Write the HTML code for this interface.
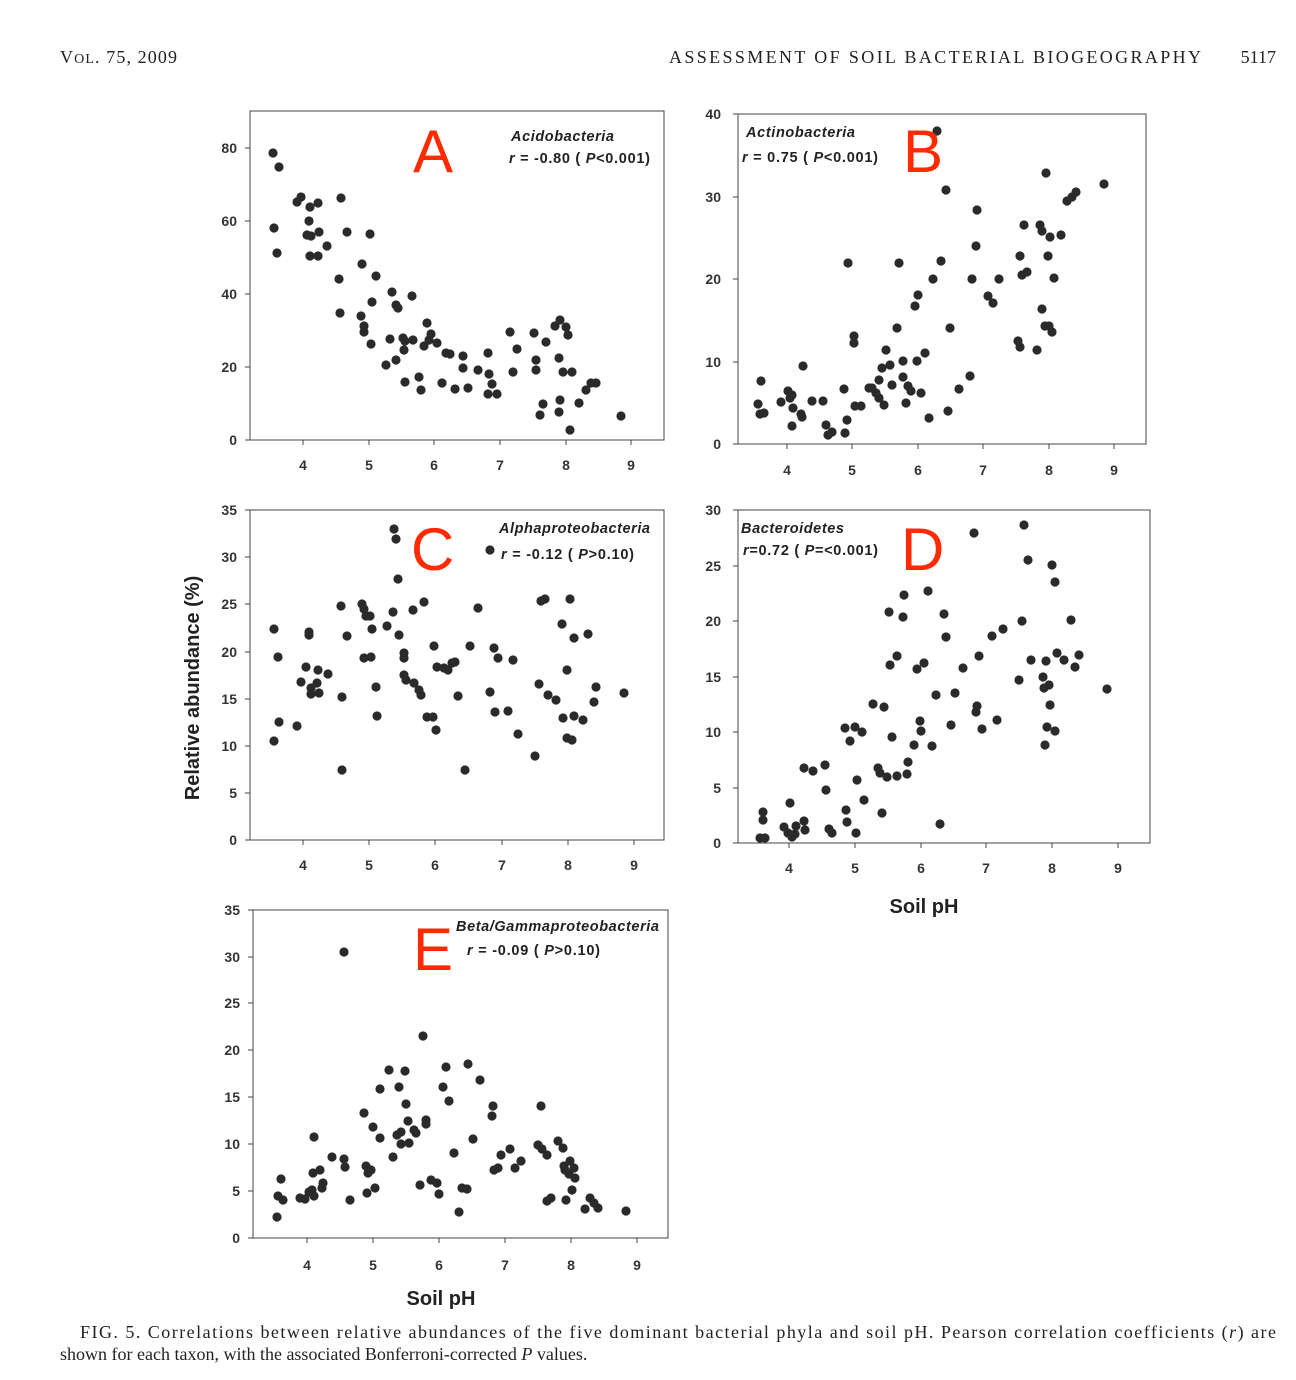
<!DOCTYPE html>
<html><head><meta charset="utf-8">
<style>
body{margin:0;background:#fff;}
svg{display:block;}
.t{font-family:"Liberation Sans",Arial,sans-serif;font-weight:bold;font-size:14px;fill:#333;}
.s{font-family:"Liberation Serif",serif;font-size:18px;fill:#222;}
.big{font-family:"Liberation Sans",Arial,sans-serif;font-size:60px;fill:#ff2a00;}
.ann{font-family:"Liberation Sans",Arial,sans-serif;font-weight:bold;font-size:14.5px;fill:#222;}
.ax{font-family:"Liberation Sans",Arial,sans-serif;font-weight:bold;font-size:20px;fill:#222;}
</style></head>
<body>
<svg id="s" width="1296" height="1380" xmlns="http://www.w3.org/2000/svg">
<text class="s" x="60" y="63" textLength="117" lengthAdjust="spacing">V<tspan font-size="14">OL</tspan>. 75, 2009</text>
<text class="s" x="669" y="63" textLength="532" lengthAdjust="spacing">ASSESSMENT OF SOIL BACTERIAL BIOGEOGRAPHY</text>
<text class="s" x="1276" y="63" text-anchor="end">5117</text>

<g fill="none" stroke="#444" stroke-width="1">
<rect x="250" y="111" width="414" height="329"/>
<rect x="738" y="114" width="408" height="330"/>
<rect x="250" y="510" width="414" height="330"/>
<rect x="738" y="510" width="412" height="333"/>
<rect x="253" y="910" width="415" height="328"/>
</g>
<g id="ticks" stroke="#444" stroke-width="1"></g>
<g id="dots" fill="#2a2a2a"></g>

<g class="t" text-anchor="middle">
<text x="303" y="470">4</text><text x="369" y="470">5</text><text x="434" y="470">6</text><text x="500" y="470">7</text><text x="566" y="470">8</text><text x="631" y="470">9</text>
<text x="787" y="475">4</text><text x="852" y="475">5</text><text x="918" y="475">6</text><text x="983" y="475">7</text><text x="1049" y="475">8</text><text x="1114" y="475">9</text>
<text x="303" y="870">4</text><text x="369" y="870">5</text><text x="435" y="870">6</text><text x="502" y="870">7</text><text x="568" y="870">8</text><text x="634" y="870">9</text>
<text x="789" y="873">4</text><text x="855" y="873">5</text><text x="921" y="873">6</text><text x="986" y="873">7</text><text x="1052" y="873">8</text><text x="1118" y="873">9</text>
<text x="307" y="1270">4</text><text x="373" y="1270">5</text><text x="439" y="1270">6</text><text x="505" y="1270">7</text><text x="571" y="1270">8</text><text x="637" y="1270">9</text>
</g>
<g class="t" text-anchor="end">
<text x="237" y="445">0</text><text x="237" y="372">20</text><text x="237" y="299">40</text><text x="237" y="226">60</text><text x="237" y="153">80</text>
<text x="721" y="449">0</text><text x="721" y="367">10</text><text x="721" y="284">20</text><text x="721" y="202">30</text><text x="721" y="119">40</text>
<text x="237" y="845">0</text><text x="237" y="798">5</text><text x="237" y="751">10</text><text x="237" y="704">15</text><text x="237" y="657">20</text><text x="237" y="609">25</text><text x="237" y="562">30</text><text x="237" y="515">35</text>
<text x="721" y="848">0</text><text x="721" y="793">5</text><text x="721" y="737">10</text><text x="721" y="682">15</text><text x="721" y="626">20</text><text x="721" y="571">25</text><text x="721" y="515">30</text>
<text x="240" y="1243">0</text><text x="240" y="1196">5</text><text x="240" y="1149">10</text><text x="240" y="1102">15</text><text x="240" y="1055">20</text><text x="240" y="1008">25</text><text x="240" y="962">30</text><text x="240" y="915">35</text>
</g>

<text class="big" x="413" y="172">A</text>
<text class="big" x="903" y="172">B</text>
<text class="big" x="411" y="570">C</text>
<text class="big" x="901" y="570">D</text>
<text class="big" x="413" y="970">E</text>

<g class="ann">
<text x="511" y="141" font-style="italic" textLength="103" lengthAdjust="spacing">Acidobacteria</text>
<text x="509" y="163" textLength="141" lengthAdjust="spacing"><tspan font-style="italic">r</tspan> = -0.80 (  <tspan font-style="italic">P</tspan>&lt;0.001)</text>
<text x="746" y="137" font-style="italic" textLength="109" lengthAdjust="spacing">Actinobacteria</text>
<text x="742" y="162" textLength="136" lengthAdjust="spacing"><tspan font-style="italic">r</tspan> = 0.75 (  <tspan font-style="italic">P</tspan>&lt;0.001)</text>
<text x="499" y="533" font-style="italic" textLength="151" lengthAdjust="spacing">Alphaproteobacteria</text>
<text x="501" y="559" textLength="133" lengthAdjust="spacing"><tspan font-style="italic">r</tspan> = -0.12 (  <tspan font-style="italic">P</tspan>&gt;0.10)</text>
<text x="741" y="533" font-style="italic" textLength="103" lengthAdjust="spacing">Bacteroidetes</text>
<text x="743" y="555" textLength="135" lengthAdjust="spacing"><tspan font-style="italic">r</tspan>=0.72 (  <tspan font-style="italic">P</tspan>=&lt;0.001)</text>
<text x="456" y="931" font-style="italic" textLength="203" lengthAdjust="spacing">Beta/Gammaproteobacteria</text>
<text x="467" y="955" textLength="133" lengthAdjust="spacing"><tspan font-style="italic">r</tspan> = -0.09 (  <tspan font-style="italic">P</tspan>&gt;0.10)</text>
</g>

<text class="ax" x="924" y="913" text-anchor="middle">Soil pH</text>
<text class="ax" x="441" y="1305" text-anchor="middle">Soil pH</text>
<text class="ax" transform="translate(199,688) rotate(-90)" text-anchor="middle">Relative abundance (%)</text>

<text class="s" x="80" y="1338" textLength="1196" lengthAdjust="spacing">FIG. 5. Correlations between relative abundances of the five dominant bacterial phyla and soil pH. Pearson correlation coefficients (<tspan font-style="italic">r</tspan>) are</text>
<text class="s" x="60" y="1360">shown for each taxon, with the associated Bonferroni-corrected <tspan font-style="italic">P</tspan> values.</text>
</svg>
<script>
var NS="http://www.w3.org/2000/svg";
var P=[
[273,153,279,167,274,228,277,253,297,202,301,197,310,207,318,203,309,221,311,236,307,235,319,232,310,256,318,256,327,246,341,198,347,232,339,279,340,313,362,264,370,234,376,276,372,302,361,316,364,326,364,332,371,344,386,365,392,292,396,305,398,308,390,339,403,338,396,360,404,350,405,382,412,296,413,340,405,341,419,377,421,390,424,346,427,323,431,334,429,340,437,343,442,383,446,353,450,354,455,389,463,356,463,368,468,388,478,370,488,353,489,374,492,384,488,394,497,394,510,332,513,372,517,349,534,333,536,370,536,360,540,415,543,404,546,342,555,326,560,320,559,358,560,400,559,412,566,327,563,372,568,335,572,372,570,430,579,403,586,390,591,383,596,383,621,416],
[758,404,760,414,761,381,764,413,781,402,788,391,790,398,793,408,792,426,792,395,801,414,803,366,802,417,812,401,823,401,826,425,828,435,832,432,844,389,845,433,848,263,847,420,855,406,854,343,854,336,861,406,869,388,872,388,876,393,879,380,879,398,882,368,884,405,886,350,890,365,892,385,897,328,899,263,903,377,903,361,906,403,908,386,911,391,915,306,918,295,917,361,921,393,925,353,929,418,933,279,937,131,941,261,946,190,948,411,950,328,959,389,970,376,972,279,977,210,976,246,988,296,993,303,999,279,1018,341,1020,347,1020,256,1022,275,1024,225,1027,272,1040,225,1042,231,1042,309,1045,326,1046,173,1048,256,1049,326,1050,237,1052,332,1054,278,1061,235,1067,201,1072,197,1076,192,1104,184,1037,350],
[274,629,278,657,279,722,274,741,297,726,301,682,309,632,309,635,306,667,311,694,311,688,318,670,317,683,319,693,328,674,341,606,342,697,342,770,347,636,362,604,364,609,366,616,364,658,370,616,372,629,376,687,371,657,377,716,387,626,393,612,394,529,396,539,398,579,399,635,404,653,404,675,406,680,404,658,413,610,414,683,419,690,421,695,424,602,427,717,433,717,434,646,436,730,437,667,444,668,448,670,452,663,455,662,458,696,465,770,470,646,478,608,490,550,490,692,495,712,494,648,498,658,508,711,513,660,518,734,535,756,539,684,541,601,545,599,548,695,556,700,562,624,563,718,567,670,567,738,570,599,572,740,574,638,574,716,583,720,588,634,594,702,596,687,624,693],
[760,838,763,820,763,812,765,838,784,827,788,833,790,803,792,837,795,834,796,826,805,830,804,768,804,821,813,771,825,765,826,790,829,829,832,833,845,728,846,810,847,822,850,741,855,727,857,780,856,833,862,732,864,800,873,704,878,768,880,773,882,813,884,707,887,777,889,612,890,665,892,737,897,776,897,656,903,617,904,595,907,774,908,762,914,745,917,669,921,731,920,721,924,663,928,591,932,746,936,695,940,824,944,614,946,637,951,725,955,693,963,668,974,533,976,712,977,706,979,656,982,729,992,636,997,720,1003,629,1019,680,1022,621,1024,525,1028,560,1031,660,1043,677,1044,688,1046,661,1047,727,1045,745,1049,685,1050,705,1052,565,1055,731,1055,582,1057,653,1064,660,1071,620,1075,667,1079,655,1107,689],
[277,1217,278,1196,281,1179,283,1200,300,1198,305,1199,309,1192,312,1190,313,1173,314,1137,314,1196,320,1170,322,1188,323,1183,332,1157,344,1159,345,1167,344,952,350,1200,364,1113,366,1166,368,1173,367,1193,371,1170,373,1127,375,1188,380,1089,380,1138,389,1070,393,1157,397,1135,399,1087,401,1132,401,1144,405,1071,406,1104,408,1121,409,1143,414,1130,416,1133,420,1185,423,1036,426,1124,426,1120,431,1180,437,1183,439,1194,443,1087,446,1067,449,1101,454,1153,459,1212,462,1188,468,1064,467,1189,473,1139,480,1080,492,1116,493,1106,494,1170,498,1168,501,1155,510,1149,515,1168,521,1161,538,1145,541,1106,542,1149,547,1155,547,1201,551,1198,558,1141,563,1148,564,1166,565,1170,566,1200,569,1174,570,1161,572,1190,574,1168,575,1178,585,1209,590,1198,594,1203,598,1208,626,1211]];
var g=document.getElementById("dots");
P.forEach(function(a){for(var i=0;i<a.length;i+=2){var c=document.createElementNS(NS,"circle");c.setAttribute("cx",a[i]);c.setAttribute("cy",a[i+1]);c.setAttribute("r",4.6);g.appendChild(c);}});
var T=[
[250,440,[303,369,434,500,566,631],[440,367,294,221,148]],
[738,444,[787,852,918,983,1049,1114],[444,362,279,197,114]],
[250,840,[303,369,435,502,568,634],[840,793,746,699,652,604,557,510]],
[738,843,[789,855,921,986,1052,1118],[843,788,732,677,621,566,510]],
[253,1238,[307,373,439,505,571,637],[1238,1191,1144,1097,1050,1003,957,910]]];
var t=document.getElementById("ticks");
function L(x1,y1,x2,y2){var l=document.createElementNS(NS,"line");l.setAttribute("x1",x1);l.setAttribute("y1",y1);l.setAttribute("x2",x2);l.setAttribute("y2",y2);t.appendChild(l);}
T.forEach(function(p){p[2].forEach(function(x){L(x,p[1],x,p[1]+5);});p[3].forEach(function(y){L(p[0]-5,y,p[0],y);});});
</script>
</body></html>
